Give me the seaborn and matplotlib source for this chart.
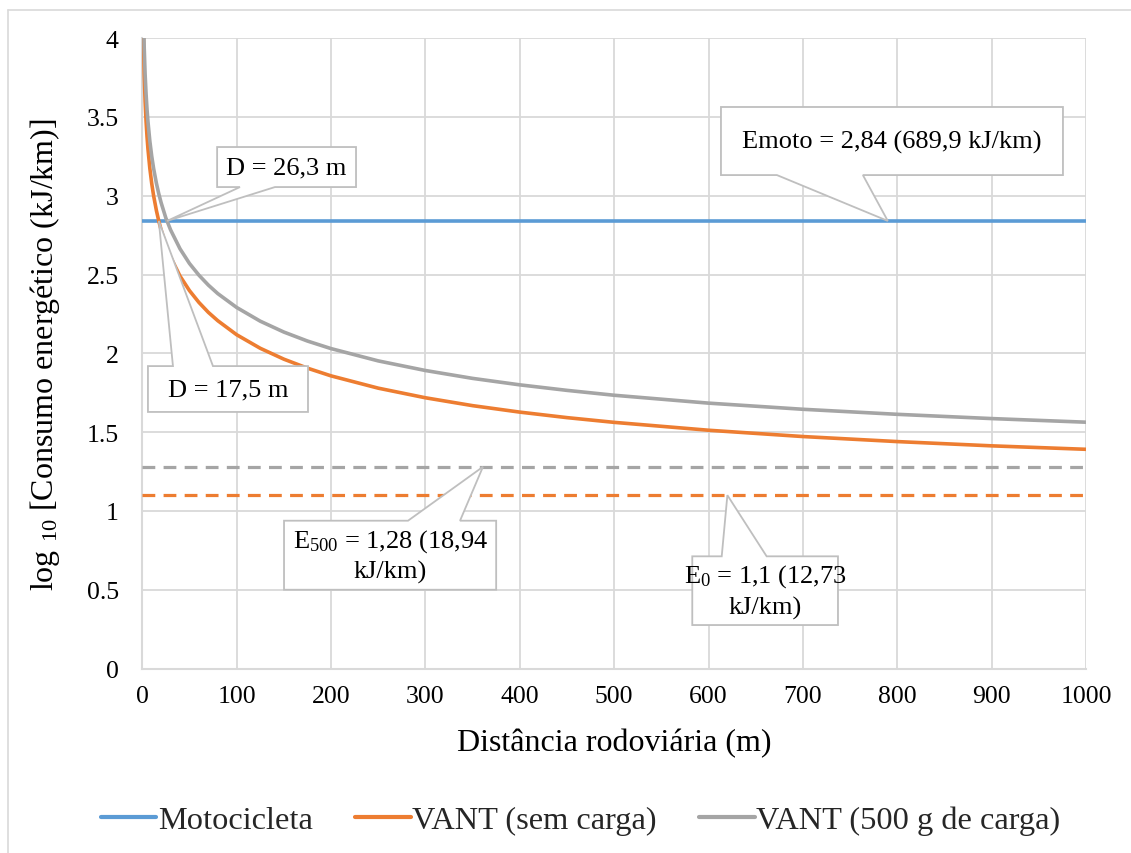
import matplotlib
matplotlib.use("Agg")
import matplotlib.pyplot as plt
from matplotlib.patches import Polygon
from matplotlib.lines import Line2D
import seaborn as sns
import pandas as pd

# Road distance (m) at which both drone curves are sampled
distance_m = [1, 2, 3, 4, 5, 6, 8, 10, 12, 15, 17.5, 20, 25, 26.3, 30, 40, 50, 60,
              70, 80, 100, 125, 150, 175, 200, 250, 300, 350, 400, 450, 500, 600,
              700, 800, 900, 1000]

# log10 of energy consumption (kJ/km)
vant_sem_carga = [4.074, 3.774, 3.598, 3.474, 3.377, 3.298, 3.174, 3.078, 3.000,
                  2.905, 2.839, 2.782, 2.687, 2.666, 2.611, 2.490, 2.398, 2.323,
                  2.260, 2.207, 2.118, 2.032, 1.963, 1.906, 1.857, 1.779, 1.718,
                  1.668, 1.627, 1.592, 1.562, 1.512, 1.472, 1.440, 1.413, 1.391]
vant_500g = [4.247, 3.947, 3.771, 3.647, 3.550, 3.471, 3.347, 3.251, 3.173,
             3.078, 3.012, 2.955, 2.858, 2.839, 2.783, 2.663, 2.570, 2.496,
             2.433, 2.379, 2.291, 2.204, 2.135, 2.078, 2.030, 1.952, 1.891,
             1.841, 1.800, 1.765, 1.734, 1.684, 1.645, 1.613, 1.586, 1.563]

# Constant reference levels
x_span = [0, 1000]
moto_level = 2.84
e0_level = 1.10
e500_level = 1.28

# Crossing distances with the motorcycle level
d_cross_500 = 26.3
d_cross_0 = 17.5

x_ticks = [0, 100, 200, 300, 400, 500, 600, 700, 800, 900, 1000]
y_ticks = [0, 0.5, 1, 1.5, 2, 2.5, 3, 3.5, 4]
y_tick_labels = ["0", "0.5", "1", "1.5", "2", "2.5", "3", "3.5", "4"]

legend_labels = ["Motocicleta", "VANT (sem carga)", "VANT (500 g de carga)"]

BLUE = "#5B9BD5"
ORANGE = "#ED7D31"
GRAY = "#A5A5A5"
GRID = "#D9D9D9"
EDGE = "#BFBFBF"

sns.set_theme(style="white")
plt.rcParams["font.family"] = ["Liberation Serif", "DejaVu Serif"]
plt.rcParams["mathtext.fontset"] = "custom"
plt.rcParams["mathtext.rm"] = "Liberation Serif"
plt.rcParams["mathtext.it"] = "Liberation Serif:italic"
plt.rcParams["mathtext.bf"] = "Liberation Serif:bold"

fig = plt.figure(figsize=(11.31, 8.54), dpi=100)
ax = fig.add_axes([0.1258, 0.2160, 0.9602 - 0.1258, 0.9542 - 0.2160])

curves = pd.DataFrame({"d": distance_m, "sem": vant_sem_carga, "c500": vant_500g})
level_df = pd.DataFrame({"d": x_span,
                         "moto": [moto_level] * 2,
                         "e0": [e0_level] * 2,
                         "e500": [e500_level] * 2})

lw = 2.6
sns.lineplot(data=level_df, x="d", y="e500", ax=ax, color=GRAY, lw=2.3,
             linestyle=(0, (4, 2.6)), zorder=3)
sns.lineplot(data=level_df, x="d", y="e0", ax=ax, color=ORANGE, lw=2.3,
             linestyle=(0, (4, 2.6)), zorder=3)
sns.lineplot(data=level_df, x="d", y="moto", ax=ax, color=BLUE, lw=lw, zorder=3)
sns.lineplot(data=curves, x="d", y="sem", ax=ax, color=ORANGE, lw=lw, zorder=3)
sns.lineplot(data=curves, x="d", y="c500", ax=ax, color=GRAY, lw=lw, zorder=3)

ax.set_xlim(0, 1000)
ax.set_ylim(0, 4)
ax.set_xticks(x_ticks)
ax.set_yticks(y_ticks)
ax.set_yticklabels(y_tick_labels)
ax.grid(True, color=GRID, lw=1.3)
ax.set_axisbelow(True)
for s in ["top", "right"]:
    ax.spines[s].set_visible(False)
for s in ["left", "bottom"]:
    ax.spines[s].set_color(GRID)
    ax.spines[s].set_linewidth(1.5)
ax.tick_params(axis="both", length=0, labelsize=18.5, colors="black")
ax.tick_params(axis="y", pad=17)
ax.tick_params(axis="x", pad=12)

ax.set_xlabel("Distância rodoviária (m)", fontsize=23, color="black")
ax.set_ylabel(r"log $\mathregular{_{10}}$ [Consumo energético (kJ/km)]",
              fontsize=23, color="black")
ax.xaxis.label.set_va("center")
ax.yaxis.label.set_va("center")
ax.xaxis.set_label_coords(0.5, -0.117)
ax.yaxis.set_label_coords(-0.103, 0.500)


def callout(text, box, tip, base, side):
    x0, x1, y0, y1 = box
    b0, b1 = base
    if side == "bottom":
        verts = [(x0, y1), (x1, y1), (x1, y0), (b1, y0), tip, (b0, y0), (x0, y0)]
    else:
        verts = [(x0, y0), (x0, y1), (b0, y1), tip, (b1, y1), (x1, y1), (x1, y0)]
    ax.add_patch(Polygon(verts, closed=True, facecolor="white", edgecolor=EDGE,
                         lw=1.3, zorder=5, joinstyle="miter"))
    ax.text((x0 + x1) / 2, (y0 + y1) / 2, text, ha="center", va="center",
            fontsize=19, color="black", zorder=6, linespacing=1.35)


callout("D = 26,3 m", (79.3, 226.5, 3.055, 3.309), (d_cross_500, moto_level),
        (103.5, 140.6), "bottom")
callout("D = 17,5 m", (6.0, 175.6, 1.628, 1.919), (d_cross_0, moto_level),
        (32.5, 74.9), "top")
callout("Emoto = 2,84 (689,9 kJ/km)", (613.2, 975.6, 3.131, 3.563),
        (790, moto_level), (672.5, 763.6), "bottom")
callout("$\\mathregular{E_{500}}$ = 1,28 (18,94\nkJ/km)", (150.2, 375.0, 0.500, 0.938),
        (361, e500_level), (281.6, 336.7), "top")
callout("$\\mathregular{E_{0}}$ = 1,1 (12,73\nkJ/km)", (582.8, 737.2, 0.276, 0.712),
        (620, e0_level), (614.0, 661.6), "top")

handles = [Line2D([], [], color=c, lw=3) for c in (BLUE, ORANGE, GRAY)]
fig.legend(handles, legend_labels, loc="center", bbox_to_anchor=(0.5133, 0.0386),
           ncol=3, frameon=False, fontsize=23.3, handlelength=1.72,
           handletextpad=0.05, columnspacing=1.3)

# Chart area frame
fig.add_artist(Line2D([7.5 / 1131, 1], [1 - 10.5 / 854] * 2, transform=fig.transFigure,
                      color=GRID, lw=1.2))
fig.add_artist(Line2D([7.5 / 1131] * 2, [0, 1 - 10.5 / 854], transform=fig.transFigure,
                      color=GRID, lw=1.2))

fig.savefig("out.png", dpi=100)
